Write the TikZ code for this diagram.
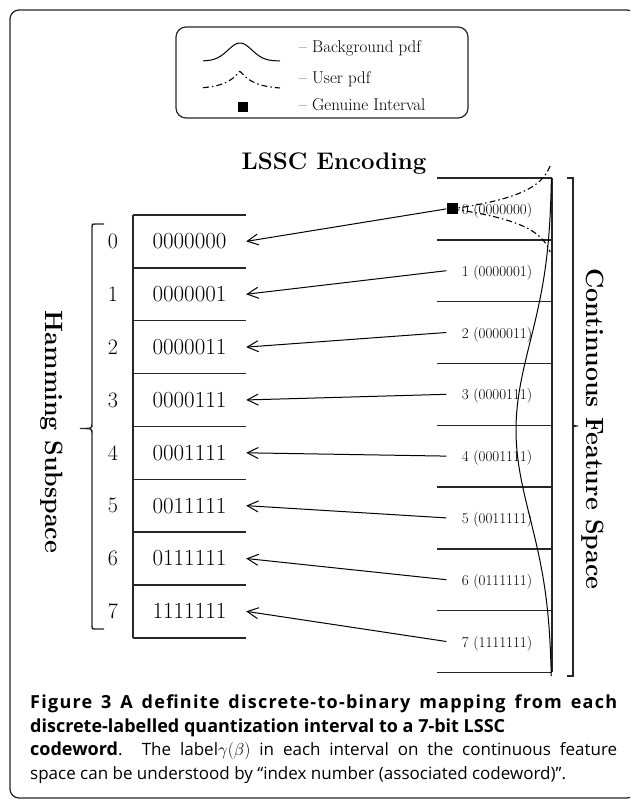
\documentclass[tikz,border=0pt]{standalone}
\usepackage{fontspec}
\newfontfamily\capfont{Open Sans}
\newfontfamily\capwide[LetterSpace=7]{Open Sans}
\usetikzlibrary{arrows.meta}

\tikzset{
  frameline/.style={draw=black!85, line width=1.3pt, rounded corners=9pt},
  rule/.style={draw=black!85, line width=1.4pt},
  pdfline/.style={draw=black, line width=1pt},
  userline/.style={draw=black, line width=1.1pt, dash pattern=on 6pt off 3pt on 1.5pt off 3pt},
  maplink/.style={draw=black, line width=1pt, -{Straight Barb[length=11pt,width=11pt,line width=1pt]}},
  codecell/.style={minimum width=113pt, minimum height=52.85pt, inner sep=0pt,
                   font=\fontsize{23}{23}\selectfont},
  indexlbl/.style={inner sep=0pt, font=\fontsize{22}{22}\selectfont},
  intcell/.style={minimum width=115pt, minimum height=61.8pt, inner sep=0pt,
                  font=\fontsize{15}{15}\selectfont, text depth=0pt},
  legendtext/.style={anchor=base west, inner sep=0pt, font=\fontsize{17}{17}\selectfont},
  sidetitle/.style={rotate=-90, inner sep=0pt, font=\bfseries\fontsize{25}{25}\selectfont},
  genuine/.style={fill=black, minimum size=11pt, inner sep=0pt}
}

\begin{document}
\begin{tikzpicture}[x=1pt,y=-1pt]
\useasboundingbox (0,0) rectangle (630,802);
\clip (0,0) rectangle (630,802);

% outer frame
\draw[frameline] (10,10) rectangle (636,798);

% legend
\draw[frameline, line width=1.2pt, rounded corners=10pt] (176,27) rectangle (468,118);
\draw[pdfline] plot[domain=203:280, samples=60, smooth] (\x, {61-18*exp(-((\x-240)/17)^2)});
\draw[userline] plot[domain=203:280, samples=60] (\x, {89-18*exp(-abs(\x-240)/14)});
\node[genuine, minimum size=10pt] (legsq) at (243,107) {};
\node[legendtext] (legbg) at (299,53) {-- Background pdf};
\node[legendtext] (leguser) at (299,84) {-- User pdf};
\node[legendtext] (leggen) at (299,111) {-- Genuine Interval};

% heading
\node[anchor=base, inner sep=0pt, font=\bfseries\fontsize{24}{24}\selectfont] (head) at (334,170) {LSSC Encoding};

% Hamming subspace table
\draw[rule] (133,215) -- (133,637.8);
\foreach \k in {0,...,8} {
  \pgfmathsetmacro\yy{215+52.85*\k}
  \draw[rule] (133,\yy) -- (246,\yy);
}
\foreach \k/\code in {0/0000000,1/0000001,2/0000011,3/0000111,4/0001111,5/0011111,6/0111111,7/1111111} {
  \pgfmathsetmacro\yc{241.4+52.85*\k}
  \node[codecell] (cw\k) at (189.5,\yc) {\code};
  \node[indexlbl] (ix\k) at (113,\yc) {\k};
}

% left brace
\draw[rule] (104,224) -- (95,224) .. controls (92,224) .. (92,227) -- (92,424)
  .. controls (92,428.5) .. (80,428.5) .. controls (92,428.5) .. (92,433) -- (92,626)
  .. controls (92,629) .. (95,629) -- (104,629);
\node[sidetitle] (hamming) at (52,432) {Hamming Subspace};

% continuous feature space table
\draw[rule] (552,178) -- (552,672.4);
\foreach \k in {0,...,8} {
  \pgfmathsetmacro\yy{178+61.8*\k}
  \draw[rule] (437,\yy) -- (552,\yy);
}
\foreach \k/\code in {0/0000000,1/0000001,2/0000011,3/0000111,4/0001111,5/0011111,6/0111111,7/1111111} {
  \pgfmathsetmacro\yc{208.9+61.8*\k}
  \node[intcell] (iv\k) at (497,\yc) {\k\ (\code)};
}

% right brace
\draw[rule] (567,178) -- (573,178) -- (573,676) -- (567,676);
\draw[rule] (573,422) .. controls (573,426) .. (578,426) .. controls (573,426) .. (573,430);
\node[sidetitle] (feature) at (593,429) {Continuous Feature Space};

% background pdf along the feature axis
\draw[pdfline] plot[domain=178:676, samples=120, smooth] ({552-36*exp(-((\x-430)/125)^2)}, \x);
% user pdf, peaked at the genuine interval
\draw[userline] plot[domain=166:252, samples=90] ({556-104*exp(-abs(\x-208.9)/15)}, \x);
\node[genuine] (gen) at (452,208.9) {};

% mappings from intervals to codewords
\draw[maplink] (gen.west) -- (cw0.east);
\foreach \k in {1,...,7} {
  \draw[maplink] ([xshift=7pt]iv\k.west) -- (cw\k.east);
}

% caption
\node[anchor=north west, text width=587pt, align=justify, inner sep=0pt,
      font=\capfont\fontsize{17}{23.5}\selectfont] (caption) at (30,695)
{{\capwide\bfseries\fontsize{18}{23.5}\selectfont Figure 3 A definite discrete-to-binary mapping from each}\linebreak
{\bfseries\fontsize{18}{23.5}\selectfont discrete-labelled quantization interval to a 7-bit LSSC}\\
{\bfseries\fontsize{18}{23.5}\selectfont codeword}. The label$\gamma(\beta)$ in each interval on the continuous feature\linebreak
space can be understood by “index number (associated codeword)”.\parfillskip=0pt};
\end{tikzpicture}
\end{document}
